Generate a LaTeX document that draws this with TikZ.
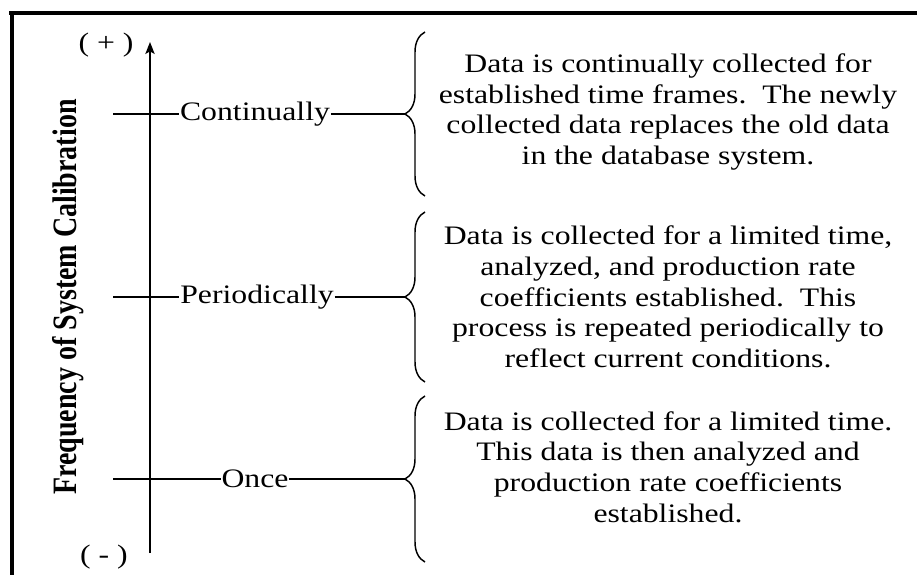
\documentclass[tikz,border=0pt]{standalone}
\usepackage{fontspec}
\setmainfont{Liberation Serif}[FakeStretch=1.19]
\newfontfamily\labfont{Liberation Serif}
\usetikzlibrary{decorations.pathreplacing,arrows.meta}
\begin{document}
\begin{tikzpicture}[x=0.75pt,y=-0.75pt,
  txt/.style={font=\fontsize{20}{23}\selectfont, align=center, inner sep=0pt},
  sign/.style={font=\fontsize{20}{23}\selectfont, inner sep=0pt},
  tick/.style={line width=1.1pt},
  lab/.style={font=\fontsize{20}{23}\selectfont, inner xsep=0.5pt, inner ysep=0pt},
  bracepath/.style={decorate, decoration={brace, amplitude=15pt}, line width=1.1pt},
  frame/.style={line width=3pt}
  ]
\useasboundingbox (0,0) rectangle (917,575);
% frame
\coordinate (ftl) at (12,13);
\coordinate (ftr) at (917,13);
\coordinate (fbl) at (12,575);
\draw[frame] ([xshift=-2pt]ftl) -- (ftr);
\draw[frame] ([yshift=1.1pt]ftl) -- (fbl);
% axis
\coordinate (axb) at (150,553);
\coordinate (axt) at (150,42);
\draw[line width=1.1pt, -{Stealth[length=9pt,width=7pt,inset=2pt]}] (axb) -- (axt);
\node[sign] (plus) at (106,45) {( + )};
\node[sign] (minus) at (104,557) {( - )};
% vertical label
\node[rotate=90, inner sep=0pt, font=\labfont\bfseries\fontsize{21}{24}\selectfont] (vl) at (68,297)
  {\scalebox{1}[1.22]{Frequency of System Calibration}};
% ticks
\coordinate (t1) at (113,114);
\coordinate (t2) at (113,297);
\coordinate (t3) at (113,479);
\coordinate (b1) at (405,114);
\coordinate (b2) at (405,297);
\coordinate (b3) at (405,479);
\node[lab] (c1) at (255,114) {Continually};
\node[lab] (c2) at (257,297) {Periodically};
\node[lab] (c3) at (255,479) {Once};
\draw[tick] (t1) -- (c1.west);
\draw[tick] (c1.east) -- (b1);
\draw[tick] (t2) -- (c2.west);
\draw[tick] (c2.east) -- (b2);
\draw[tick] (t3) -- (c3.west);
\draw[tick] (c3.east) -- (b3);
% braces
\coordinate (br1t) at (425,32);
\coordinate (br1b) at (425,196);
\coordinate (br2t) at (425,212);
\coordinate (br2b) at (425,382);
\coordinate (br3t) at (425,396);
\coordinate (br3b) at (425,562);
\draw[bracepath] (br1b) -- (br1t);
\draw[bracepath] (br2b) -- (br2t);
\draw[bracepath] (br3b) -- (br3t);
% descriptions
\node[txt] (d1) at (668,112) {Data is continually collected for\\established time frames.\ \ The newly\\collected data replaces the old data\\in the database system.};
\node[txt] (d2) at (668,297) {Data is collected for a limited time,\\analyzed, and production rate\\coefficients established.\ \ This\\process is repeated periodically to\\reflect current conditions.};
\node[txt] (d3) at (668,467) {Data is collected for a limited time.\\This data is then analyzed and\\production rate coefficients\\established.};
\end{tikzpicture}
\end{document}
